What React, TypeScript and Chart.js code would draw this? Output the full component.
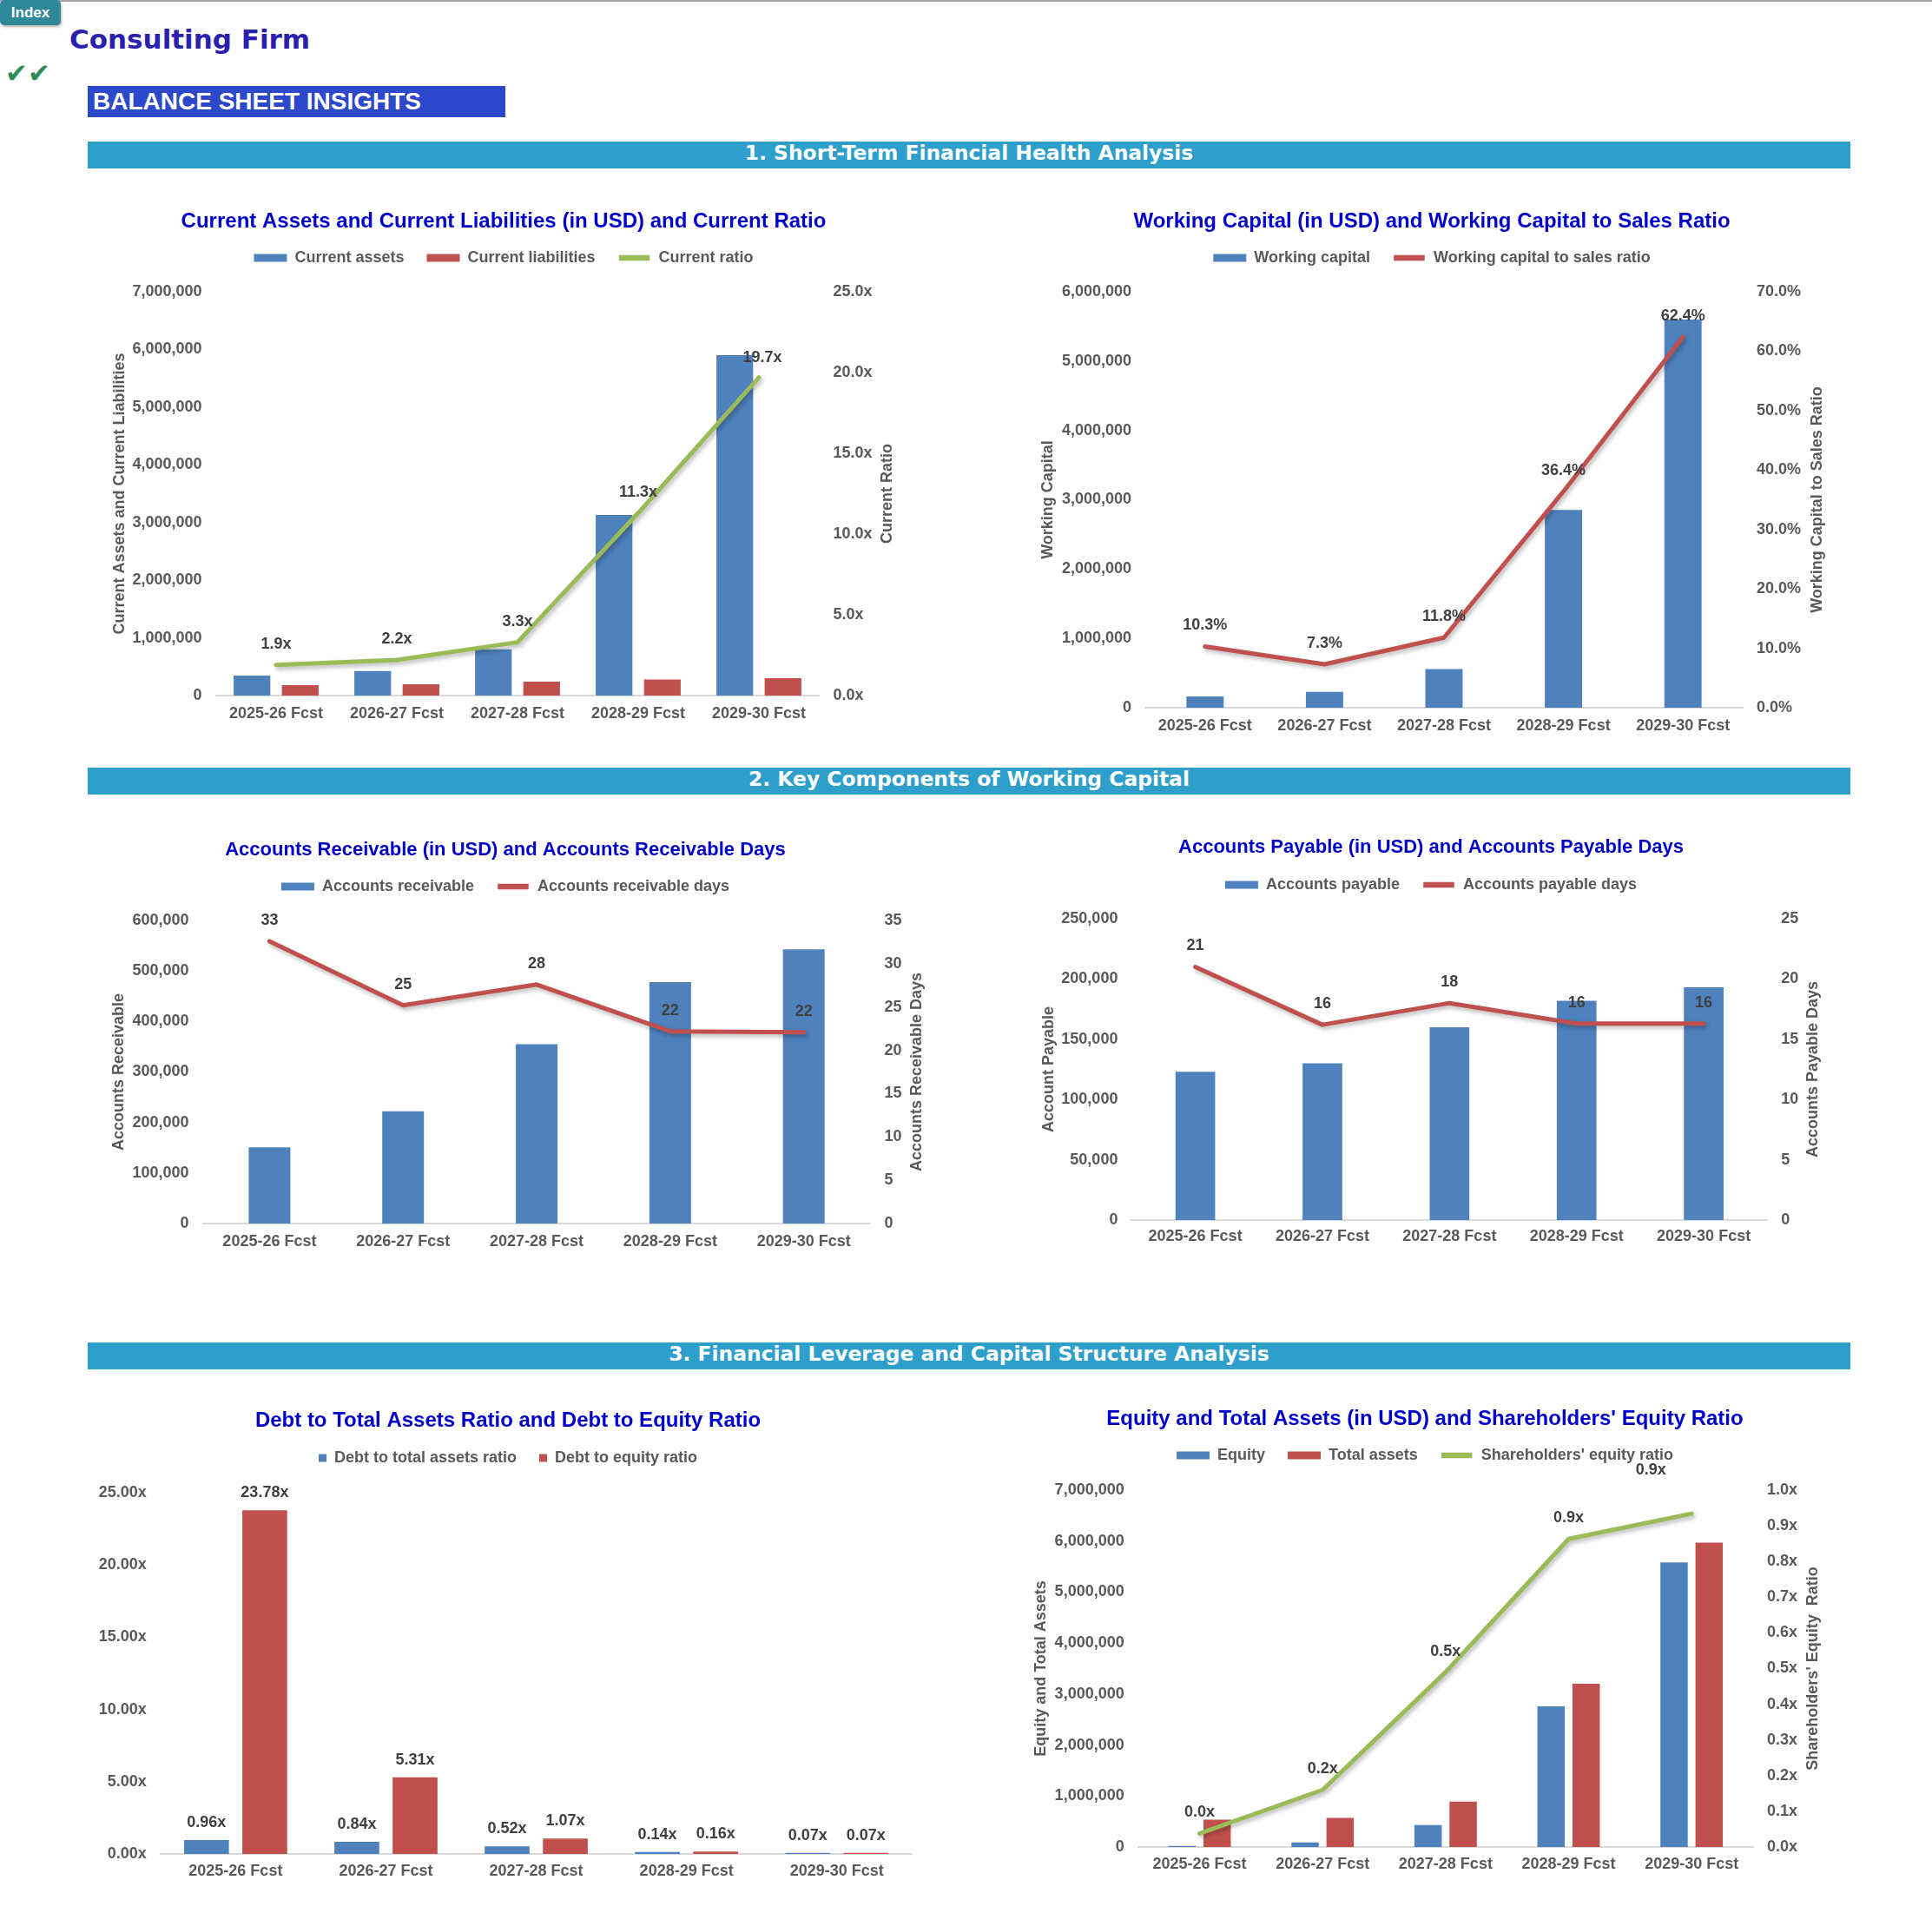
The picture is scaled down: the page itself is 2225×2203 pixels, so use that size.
import React, { useEffect, useRef } from 'react';
import { Chart, registerables } from 'chart.js';

Chart.register(...registerables);

// ---------------- DATA ----------------
const CATEGORIES = ['2025-26 Fcst', '2026-27 Fcst', '2027-28 Fcst', '2028-29 Fcst', '2029-30 Fcst'];

const CURRENT_ASSETS = [345000, 425000, 800000, 3130000, 5900000];
const CURRENT_LIABILITIES = [182000, 195000, 242000, 277000, 300000];
const CURRENT_RATIO = [1.9, 2.2, 3.3, 11.3, 19.7];

const WORKING_CAPITAL = [163000, 230000, 558000, 2853000, 5600000];
const WC_TO_SALES = [10.3, 7.3, 11.8, 36.4, 62.4];

const ACCOUNTS_RECEIVABLE = [151000, 222000, 355000, 478000, 543000];
const AR_DAYS = [32.6, 25.2, 27.6, 22.2, 22.1];

const ACCOUNTS_PAYABLE = [123000, 130000, 160000, 182000, 193000];
const AP_DAYS = [21.0, 16.2, 18.0, 16.3, 16.3];

const DEBT_TO_ASSETS = [0.96, 0.84, 0.52, 0.14, 0.07];
const DEBT_TO_EQUITY = [23.78, 5.31, 1.07, 0.16, 0.07];

const EQUITY = [22000, 89000, 430000, 2760000, 5580000];
const TOTAL_ASSETS = [538000, 570000, 892000, 3200000, 5970000];
const EQUITY_RATIO = [0.038, 0.16, 0.49, 0.863, 0.934];

// axis ranges: [max, step]
const AXIS_CA = [7000000, 1000000];
const AXIS_CR = [25, 5];
const AXIS_WC = [6000000, 1000000];
const AXIS_WCS = [70, 10];
const AXIS_AR = [600000, 100000];
const AXIS_ARD = [35, 5];
const AXIS_AP = [250000, 50000];
const AXIS_APD = [25, 5];
const AXIS_DEBT = [25, 5];
const AXIS_EQ = [7000000, 1000000];
const AXIS_EQR = [1, 0.1];

// ---------------- STYLE ----------------
const FONT = "'Liberation Sans', Arial, Helvetica, sans-serif";
const WIDE = "'DejaVu Sans', Verdana, sans-serif";
const BLUE = '#4F81BD';
const RED = '#C0504D';
const GREEN = '#9BBB59';
const GREY = '#595959';
const LABEL = '#404040';
const TITLE_BLUE = '#0000CC';
const LEGEND_PAD = 26;

Chart.defaults.font.family = FONT;
Chart.defaults.font.size = 18;
Chart.defaults.font.weight = 'bold';
Chart.defaults.color = GREY;

const fmtMoney = (v: number) => Math.round(v).toLocaleString('en-US');
const fmtX1 = (v: number) => v.toFixed(1) + 'x';
const fmtX2 = (v: number) => v.toFixed(2) + 'x';
const fmtPct = (v: number) => v.toFixed(1) + '%';
const fmtInt = (v: number) => String(Math.round(v));

type Geo = {
  cx: number; cy: number; cw: number; ch: number;
  titleY: number; legendY: number;
  plotT: number; plotB: number; plotL: number; plotR: number;
  xLabelY: number; leftTitleX?: number; rightTitleX?: number;
};

type LabelSpec = { ds: number; fmt: (v: number) => string; dy: number; offsets?: Record<number, [number, number]> };

type AxisSpec = { range: number[]; fmt: (v: number) => string; title?: string };

type Spec = {
  geo: Geo;
  title: string;
  titleSize: number;
  datasets: any[];
  yLeft: AxisSpec;
  yRight?: AxisSpec;
  box: [number, number];
  labels: LabelSpec[];
};

function valueLabelPlugin(specs: LabelSpec[]) {
  return {
    id: 'valueLabels',
    afterDatasetsDraw(chart: any) {
      const ctx = chart.ctx;
      ctx.save();
      ctx.font = `bold 18px ${FONT}`;
      ctx.fillStyle = LABEL;
      ctx.textAlign = 'center';
      ctx.textBaseline = 'middle';
      specs.forEach((s) => {
        const meta = chart.getDatasetMeta(s.ds);
        const data = chart.data.datasets[s.ds].data as number[];
        meta.data.forEach((el: any, i: number) => {
          const off = (s.offsets && s.offsets[i]) || [0, s.dy];
          ctx.fillText(s.fmt(data[i]), el.x + off[0], el.y + off[1]);
        });
      });
      ctx.restore();
    },
  };
}

function rightTitlePlugin(text: string | undefined, x: number) {
  return {
    id: 'rightTitle',
    afterDraw(chart: any) {
      if (!text) return;
      const ctx = chart.ctx;
      const a = chart.chartArea;
      ctx.save();
      ctx.translate(x, (a.top + a.bottom) / 2);
      ctx.rotate(-Math.PI / 2);
      ctx.font = `bold 18px ${FONT}`;
      ctx.fillStyle = GREY;
      ctx.textAlign = 'center';
      ctx.textBaseline = 'middle';
      ctx.fillText(text, 0, 0);
      ctx.restore();
    },
  };
}

const lineShadowPlugin = {
  id: 'lineShadow',
  beforeDatasetDraw(chart: any, args: any) {
    const ds = chart.data.datasets[args.index];
    if (ds.type !== 'line') return;
    const ctx = chart.ctx;
    ctx.save();
    ctx.shadowColor = 'rgba(0,0,0,0.28)';
    ctx.shadowBlur = 5;
    ctx.shadowOffsetX = 2;
    ctx.shadowOffsetY = 3;
  },
  afterDatasetDraw(chart: any, args: any) {
    const ds = chart.data.datasets[args.index];
    if (ds.type !== 'line') return;
    chart.ctx.restore();
  },
};

function yAxis(a: AxisSpec | undefined, position: 'left' | 'right', width: number, titlePadTop: number, showTitle: boolean) {
  return {
    type: 'linear',
    position,
    min: 0,
    max: a ? a.range[0] : 1,
    grid: { display: false, drawTicks: false },
    border: { display: false },
    ticks: {
      display: !!a,
      stepSize: a ? a.range[1] : 1,
      padding: 16,
      color: GREY,
      font: { size: 18, weight: 'bold' },
      callback: (v: any) => (a ? a.fmt(Number(v)) : ''),
    },
    title: {
      display: showTitle && !!a && !!a.title,
      text: (a && a.title) || '',
      color: GREY,
      font: { size: 18, weight: 'bold' },
      padding: { top: titlePadTop, bottom: 0 },
    },
    afterFit: (s: any) => { s.width = width; },
  };
}

function buildConfig(s: Spec): any {
  const g = s.geo;
  const tlh = s.titleSize * 1.2;
  const pt = g.titleY - g.cy - tlh / 2;
  const legendTop = g.legendY - LEGEND_PAD - 9;
  const pb = legendTop - g.cy - pt - tlh;
  const gap = g.plotT - (legendTop + 28 + LEGEND_PAD);
  const leftW = g.plotL - g.cx;
  const rightW = g.cx + g.cw - g.plotR;
  const scales: any = {
    x: {
      type: 'category',
      offset: true,
      grid: { display: false, drawTicks: false },
      border: { display: true, color: '#D9D9D9', width: 2 },
      ticks: {
        padding: g.xLabelY - g.plotB - 10.8,
        maxRotation: 0,
        autoSkip: false,
        color: GREY,
        font: { size: 18, weight: 'bold' },
      },
      afterFit: (sc: any) => { sc.height = g.cy + g.ch - g.plotB; },
    },
    y: yAxis(s.yLeft, 'left', leftW, (g.leftTitleX ?? g.cx) - g.cx - 10.8, true),
    y1: yAxis(s.yRight, 'right', rightW, 0, false),
  };

  return {
    type: 'bar',
    data: { labels: CATEGORIES, datasets: s.datasets },
    options: {
      animation: false,
      responsive: true,
      maintainAspectRatio: false,
      events: [],
      layout: { padding: 0 },
      plugins: {
        title: {
          display: true,
          text: s.title,
          color: TITLE_BLUE,
          font: { size: s.titleSize, weight: 'bold' },
          padding: { top: pt, bottom: pb },
        },
        legend: {
          display: true,
          position: 'top',
          labels: {
            boxWidth: s.box[0],
            boxHeight: s.box[1],
            padding: LEGEND_PAD,
            color: GREY,
            font: { size: 18, weight: 'bold' },
            sort: (a: any, b: any) => a.datasetIndex - b.datasetIndex,
            generateLabels: (chart: any) => {
              const items = Chart.defaults.plugins.legend.labels.generateLabels(chart);
              return items.map((it: any) => {
                const ds = chart.data.datasets[it.datasetIndex];
                if (ds.type === 'line') {
                  return { ...it, fillStyle: ds.borderColor, strokeStyle: '#ffffff', lineWidth: 2.5, lineDash: [], lineCap: 'butt' };
                }
                return { ...it, lineWidth: 0 };
              });
            },
          },
        },
        subtitle: {
          display: true,
          text: ' ',
          position: 'top',
          weight: 500,
          font: { size: 2 },
          padding: { top: 0, bottom: Math.max(gap - 2.4, 0) },
        },
        tooltip: { enabled: false },
      },
      scales,
    },
    plugins: [lineShadowPlugin, valueLabelPlugin(s.labels), rightTitlePlugin(s.yRight?.title, (g.rightTitleX ?? 0) - g.cx)],
  };
}

const barDs = (label: string, data: number[], color: string, cat: number, bar: number) => ({
  type: 'bar', label, data, backgroundColor: color, yAxisID: 'y', order: 2,
  categoryPercentage: cat, barPercentage: bar,
});
const lineDs = (label: string, data: number[], color: string) => ({
  type: 'line', label, data, borderColor: color, backgroundColor: color, yAxisID: 'y1', order: 1,
  borderWidth: 5, pointRadius: 0, tension: 0, fill: false, borderCapStyle: 'round', borderJoinStyle: 'round',
});

// ---------------- CHART SPECS ----------------
const SPECS: Spec[] = [
  {
    geo: { cx: 101, cw: 958, cy: 225, ch: 625, titleY: 255, legendY: 297, plotT: 336, plotB: 801, plotL: 248.5, plotR: 943.5, xLabelY: 822, leftTitleX: 138, rightTitleX: 1022 },
    title: 'Current Assets and Current Liabilities (in USD) and Current Ratio',
    titleSize: 24,
    datasets: [
      barDs('Current assets', CURRENT_ASSETS, BLUE, 0.8, 0.76),
      barDs('Current liabilities', CURRENT_LIABILITIES, RED, 0.8, 0.76),
      lineDs('Current ratio', CURRENT_RATIO, GREEN),
    ],
    yLeft: { range: AXIS_CA, fmt: fmtMoney, title: 'Current Assets and Current Liabilities' },
    yRight: { range: AXIS_CR, fmt: fmtX1, title: 'Current Ratio' },
    box: [38, 9],
    labels: [{ ds: 2, fmt: fmtX1, dy: -24, offsets: { 4: [4, -23] } }],
  },
  {
    geo: { cx: 1188, cw: 922, cy: 225, ch: 640, titleY: 255, legendY: 297, plotT: 336, plotB: 815, plotL: 1319, plotR: 2007, xLabelY: 836, leftTitleX: 1207, rightTitleX: 2093 },
    title: 'Working Capital (in USD) and Working Capital to Sales Ratio',
    titleSize: 24,
    datasets: [
      barDs('Working capital', WORKING_CAPITAL, BLUE, 0.8, 0.39),
      lineDs('Working capital to sales ratio', WC_TO_SALES, RED),
    ],
    yLeft: { range: AXIS_WC, fmt: fmtMoney, title: 'Working Capital' },
    yRight: { range: AXIS_WCS, fmt: fmtPct, title: 'Working Capital to Sales Ratio' },
    box: [38, 9],
    labels: [{ ds: 1, fmt: fmtPct, dy: -24 }],
  },
  {
    geo: { cx: 97, cw: 970, cy: 948, ch: 510, titleY: 979, legendY: 1021, plotT: 1060, plotB: 1409, plotL: 233.5, plotR: 1002.6, xLabelY: 1430, leftTitleX: 137, rightTitleX: 1056 },
    title: 'Accounts Receivable (in USD) and Accounts Receivable Days',
    titleSize: 22,
    datasets: [
      barDs('Accounts receivable', ACCOUNTS_RECEIVABLE, BLUE, 0.8, 0.39),
      lineDs('Accounts receivable days', AR_DAYS, RED),
    ],
    yLeft: { range: AXIS_AR, fmt: fmtMoney, title: 'Accounts Receivable' },
    yRight: { range: AXIS_ARD, fmt: fmtInt, title: 'Accounts Receivable Days' },
    box: [38, 9],
    labels: [{ ds: 1, fmt: fmtInt, dy: -24 }],
  },
  {
    geo: { cx: 1188, cw: 920, cy: 945, ch: 507, titleY: 976, legendY: 1019, plotT: 1058, plotB: 1405, plotL: 1303.4, plotR: 2035.3, xLabelY: 1424, leftTitleX: 1208, rightTitleX: 2088 },
    title: 'Accounts Payable (in USD) and Accounts Payable Days',
    titleSize: 22,
    datasets: [
      barDs('Accounts payable', ACCOUNTS_PAYABLE, BLUE, 0.8, 0.39),
      lineDs('Accounts payable days', AP_DAYS, RED),
    ],
    yLeft: { range: AXIS_AP, fmt: fmtMoney, title: 'Account Payable' },
    yRight: { range: AXIS_APD, fmt: fmtInt, title: 'Accounts Payable Days' },
    box: [38, 9],
    labels: [{ ds: 1, fmt: fmtInt, dy: -24 }],
  },
  {
    geo: { cx: 101, cw: 968, cy: 1606, ch: 579, titleY: 1636, legendY: 1679, plotT: 1719, plotB: 2135, plotL: 184.8, plotR: 1050.3, xLabelY: 2155 },
    title: 'Debt to Total Assets Ratio and Debt to Equity Ratio',
    titleSize: 24,
    datasets: [
      barDs('Debt to total assets ratio', DEBT_TO_ASSETS, BLUE, 0.775, 0.77),
      barDs('Debt to equity ratio', DEBT_TO_EQUITY, RED, 0.775, 0.77),
    ],
    yLeft: { range: AXIS_DEBT, fmt: fmtX2 },
    box: [9, 9],
    labels: [{ ds: 0, fmt: fmtX2, dy: -20 }, { ds: 1, fmt: fmtX2, dy: -20 }],
  },
  {
    geo: { cx: 1180, cw: 922, cy: 1604, ch: 573, titleY: 1634, legendY: 1676, plotT: 1716, plotB: 2127, plotL: 1310.7, plotR: 2019, xLabelY: 2147, leftTitleX: 1199, rightTitleX: 2088 },
    title: "Equity and Total Assets (in USD) and Shareholders' Equity Ratio",
    titleSize: 24,
    datasets: [
      barDs('Equity', EQUITY, BLUE, 0.57, 0.78),
      barDs('Total assets', TOTAL_ASSETS, RED, 0.57, 0.78),
      lineDs("Shareholders' equity ratio", EQUITY_RATIO, GREEN),
    ],
    yLeft: { range: AXIS_EQ, fmt: fmtMoney, title: 'Equity and Total Assets' },
    yRight: { range: AXIS_EQR, fmt: fmtX1, title: "Shareholders' Equity  Ratio" },
    box: [38, 9],
    labels: [{ ds: 2, fmt: fmtX1, dy: -24, offsets: { 4: [-47, -50] } }],
  },
];

function ChartBox({ spec }: { spec: Spec }) {
  const ref = useRef<HTMLCanvasElement>(null);
  useEffect(() => {
    const chart = new Chart(ref.current as HTMLCanvasElement, buildConfig(spec));
    return () => chart.destroy();
  }, [spec]);
  const g = spec.geo;
  return (
    <div style={{ position: 'absolute', left: g.cx, top: g.cy, width: g.cw, height: g.ch }}>
      <canvas ref={ref} />
    </div>
  );
}

const BANNERS: [string, number][] = [
  ['1. Short-Term Financial Health Analysis', 163],
  ['2. Key Components of Working Capital', 884],
  ['3. Financial Leverage and Capital Structure Analysis', 1546],
];

export default function App() {
  return (
    <div style={{ position: 'absolute', left: 0, top: 0, width: 2225, height: 2203, background: '#ffffff', overflow: 'hidden', fontFamily: FONT }}>
      <div style={{ position: 'absolute', left: 0, top: 0, width: 2225, height: 2, background: '#A6A6A6' }} />
      <div style={{ position: 'absolute', left: 0, top: 0, width: 70, height: 29, background: '#2F8798', borderRadius: 5, boxShadow: '1px 2px 3px rgba(0,0,0,0.3)', color: '#fff', fontWeight: 'bold', fontSize: 17, lineHeight: '29px', textAlign: 'center' }}>Index</div>
      <div style={{ position: 'absolute', left: 80, top: 30, fontFamily: WIDE, fontWeight: 'bold', fontSize: 31, lineHeight: 1, color: '#2A1FAF', whiteSpace: 'nowrap' }}>Consulting Firm</div>
      <div style={{ position: 'absolute', left: 6, top: 69, fontFamily: WIDE, fontSize: 31, lineHeight: 1, color: '#2E8B57', whiteSpace: 'nowrap' }}>✔✔</div>
      <div style={{ position: 'absolute', left: 101, top: 99, width: 481, height: 36, background: '#2D48C9' }}>
        <div style={{ position: 'absolute', left: 6, top: 4, fontWeight: 'bold', fontSize: 28, lineHeight: 1, color: '#fff', whiteSpace: 'nowrap' }}>BALANCE SHEET INSIGHTS</div>
      </div>
      {BANNERS.map(([t, top]) => (
        <div key={t} style={{ position: 'absolute', left: 101, top, width: 2030, height: 31, background: '#2E9FCB', color: '#fff', fontFamily: WIDE, fontWeight: 'bold', fontSize: 23.4, lineHeight: 1, textAlign: 'center', paddingTop: 1.5, boxSizing: 'border-box', whiteSpace: 'nowrap' }}>{t}</div>
      ))}
      {SPECS.map((s, i) => <ChartBox key={i} spec={s} />)}
    </div>
  );
}
